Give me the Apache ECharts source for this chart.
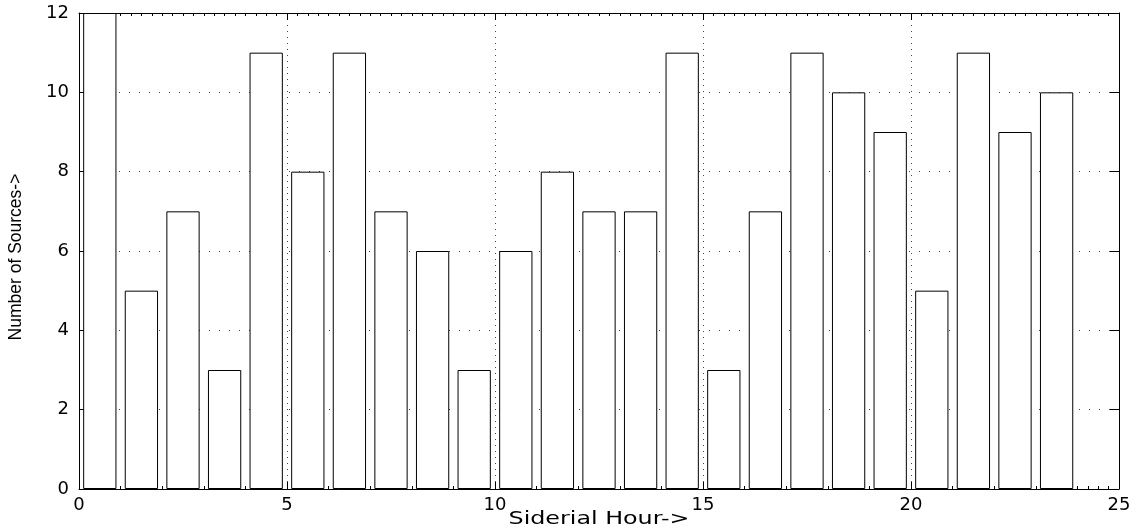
<!DOCTYPE html>
<html>
<head>
<meta charset="utf-8">
<style>
  html, body { margin: 0; padding: 0; background: #fff; }
  #chart { width: 1142px; height: 531px; }
</style>
<script src="https://cdn.jsdelivr.net/npm/echarts@6/dist/echarts.min.js"></script>
</head>
<body>
<div id="chart"></div>
<script>
// Sources per sidereal hour bin (bins centred on the half hour)
const hourCenters = [0.5, 1.5, 2.5, 3.5, 4.5, 5.5, 6.5, 7.5, 8.5, 9.5, 10.5, 11.5,
                     12.5, 13.5, 14.5, 15.5, 16.5, 17.5, 18.5, 19.5, 20.5, 21.5, 22.5, 23.5];
const sourceCounts = [12, 5, 7, 3, 11, 8, 11, 7, 6, 3, 6, 8,
                      7, 7, 11, 3, 7, 11, 10, 9, 5, 11, 9, 10];
const xTicks = [0, 5, 10, 15, 20, 25];
const yTicks = [0, 2, 4, 6, 8, 10, 12];

const xName = 'Siderial Hour->';
const yName = 'Number of Sources->';

const el = document.getElementById('chart');
const chart = echarts.init(el, null, { renderer: 'canvas' });

const grid = { left: 79, right: 23, top: 13, bottom: 42 };
const xMin = xTicks[0], xMax = xTicks[xTicks.length - 1];
const yMin = yTicks[0], yMax = yTicks[yTicks.length - 1];
const plotW = el.clientWidth - grid.left - grid.right;
const unitPx = plotW / (xMax - xMin);

const labelFont = { fontFamily: 'DejaVu Sans', fontSize: 18, color: '#000' };

function xAxisCfg(pos, showLabels) {
  return {
    type: 'value', position: pos, min: xMin, max: xMax, interval: xTicks[1] - xTicks[0],
    axisLine: { onZero: false, lineStyle: { color: '#000', width: 1 } },
    axisTick: { inside: true, length: 7, lineStyle: { color: '#000' } },
    minorTick: { show: true, splitNumber: 20, length: 3, lineStyle: { color: '#000' } },
    axisLabel: Object.assign({ show: showLabels, margin: 7 }, labelFont),
    splitLine: { show: showLabels, lineStyle: { color: '#444', type: [1, 5], width: 1 } },
    minorSplitLine: { show: false }
  };
}
function yAxisCfg(pos, showLabels) {
  return {
    type: 'value', position: pos, min: yMin, max: yMax, interval: yTicks[1] - yTicks[0],
    axisLine: { show: true, onZero: false, lineStyle: { color: '#000', width: 1 } },
    axisTick: { show: true, inside: true, length: 9, lineStyle: { color: '#000' } },
    axisLabel: Object.assign({ show: showLabels, margin: 10 }, labelFont),
    splitLine: { show: showLabels, lineStyle: { color: '#444', type: [1, 9], width: 1 } }
  };
}

chart.setOption({
  animation: false,
  backgroundColor: '#fff',
  grid: grid,
  xAxis: [xAxisCfg('bottom', true), xAxisCfg('top', false)],
  yAxis: [yAxisCfg('left', true), yAxisCfg('right', false)],
  graphic: [{
    // horizontal axis title, drawn wide
    type: 'text',
    x: grid.left + plotW / 2,
    y: 520,
    scaleX: 1.4,
    style: {
      text: xName,
      x: 0,
      y: 0,
      align: 'center',
      verticalAlign: 'middle',
      fontFamily: 'DejaVu Sans',
      fontSize: 17,
      fill: '#000'
    }
  }, {
    // vertical axis title
    type: 'text',
    x: 16,
    y: 257,
    rotation: Math.PI / 2,
    style: {
      text: yName,
      x: 0,
      y: 0,
      align: 'center',
      verticalAlign: 'middle',
      fontFamily: 'Liberation Sans',
      fontSize: 17.5,
      fill: '#000'
    }
  }],
  series: [{
    type: 'bar',
    xAxisIndex: 0,
    yAxisIndex: 0,
    barWidth: unitPx * 0.8,
    data: hourCenters.map((h, i) => [h, sourceCounts[i]]),
    itemStyle: { color: '#fff', borderColor: '#000', borderWidth: 1 },
    silent: true
  }]
});
</script>
</body>
</html>
